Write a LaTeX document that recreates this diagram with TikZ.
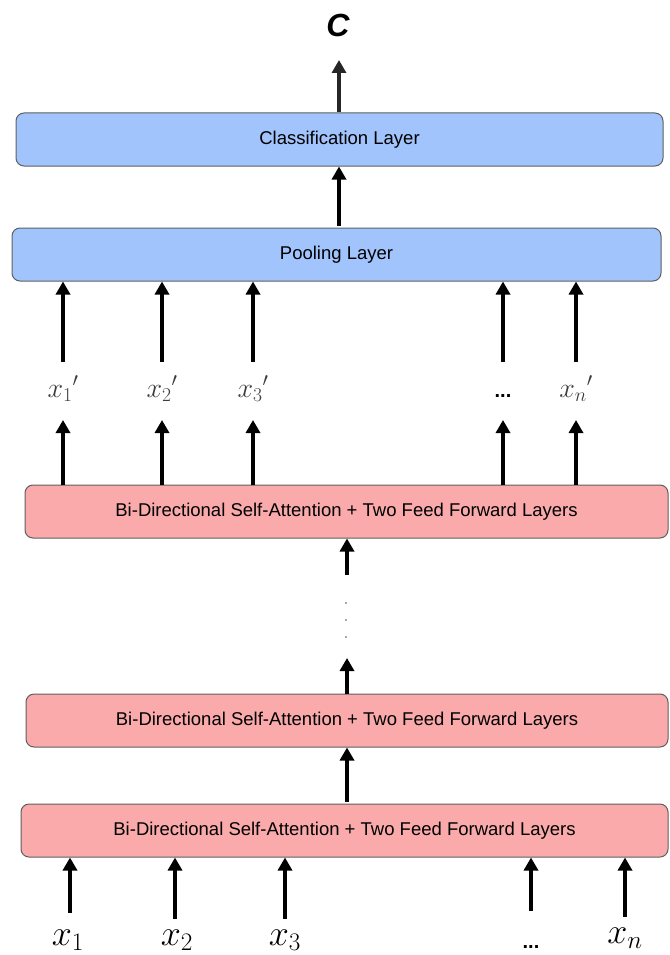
\RequirePackage{fix-cm}
\documentclass[tikz,border=0pt]{standalone}
\usepackage{fontspec}
\setmainfont{Liberation Sans}
\usetikzlibrary{arrows.meta}
\definecolor{blueF}{RGB}{161,196,253}
\definecolor{pinkF}{RGB}{250,170,170}
\definecolor{boxline}{RGB}{95,95,95}
\definecolor{lblgray}{RGB}{60,60,60}
\begin{document}
\begin{tikzpicture}[x=1pt,y=-1pt,
  layerbox/.style={draw=boxline, rounded corners=8pt, line width=1pt,
    minimum height=53pt, inner sep=0pt, font=\fontsize{18.5}{22}\selectfont},
  bluebox/.style={layerbox, fill=blueF},
  pinkbox/.style={layerbox, fill=pinkF},
  arr/.style={line width=3.3pt, -{Triangle[width=14pt,length=13pt]}},
  toplbl/.style={inner sep=0pt, anchor=base, text=lblgray, font=\fontsize{28}{32}\selectfont},
  botlbl/.style={inner sep=0pt, anchor=base, font=\fontsize{36}{40}\selectfont},
  dotlbl/.style={inner sep=0pt, anchor=base, font=\fontsize{20}{24}\selectfont\bfseries}]
\useasboundingbox (0,0) rectangle (669,955);

% output label
\node[inner sep=0pt, font=\fontsize{32}{36}\selectfont\bfseries\itshape] (C) at (338,25) {C};

% boxes
\node[bluebox, minimum width=647pt] (cls) at (339.5,139.5) {Classification Layer};
\node[bluebox, minimum width=649pt] (pool) at (336.5,254.5) {Pooling Layer};
\node[pinkbox, minimum width=643pt] (tp) at (346.5,511.5) {Bi-Directional Self-Attention + Two Feed Forward Layers};
\node[pinkbox, minimum width=642pt] (mp) at (347,720.5) {Bi-Directional Self-Attention + Two Feed Forward Layers};
\node[pinkbox, minimum width=647pt] (bp) at (344.5,830.5) {Bi-Directional Self-Attention + Two Feed Forward Layers};

% top arrows
\coordinate (ctop) at (339,60);
\draw[arr, draw=black!85, fill=black!85] (cls.north -| ctop) -- (ctop);
\draw[arr] (339,226) coordinate (pc) -- (pc |- cls.south);

% intermediate labels
\node[toplbl] (p1) at (63,397) {${x_1}'$};
\node[toplbl] (p2) at (162,397) {${x_2}'$};
\node[toplbl] (p3) at (253,397) {${x_3}'$};
\node[dotlbl] (pd) at (503,397) {...};
\node[toplbl] (pn) at (576,397) {${x_n}'$};

\foreach \n/\x in {1/63,2/162,3/253,d/503,n/576}{
  \coordinate (u\n) at (\x,362);
  \coordinate (l\n) at (\x,420);
  \draw[arr] (u\n) -- (u\n |- pool.south);
  \draw[arr] (l\n |- tp.north) -- (l\n);
}

% middle stack
\coordinate (g1) at (347,575);
\draw[arr] (g1) -- (g1 |- tp.south);
\foreach \yy in {603,620,637}{\fill[black!70] (346,\yy) circle (0.9pt);}
\coordinate (g2) at (347,658);
\draw[arr] (g2 |- mp.north) -- (g2);
\coordinate (g3) at (347,802);
\draw[arr] (g3) -- (g3 |- mp.south);

% inputs
\node[botlbl] (x1) at (68,945) {$x_1$};
\node[botlbl] (x2) at (177,945) {$x_2$};
\node[botlbl] (x3) at (285,945) {$x_3$};
\node[dotlbl] (xd) at (531,948) {...};
\node[botlbl] (xn) at (625,943) {$x_n$};

\foreach \n/\x/\t in {1/70/913,2/175/919,3/285/919,d/531/911,n/625/917}{
  \coordinate (b\n) at (\x,\t);
  \draw[arr] (b\n) -- (b\n |- bp.south);
}
\end{tikzpicture}
\end{document}
